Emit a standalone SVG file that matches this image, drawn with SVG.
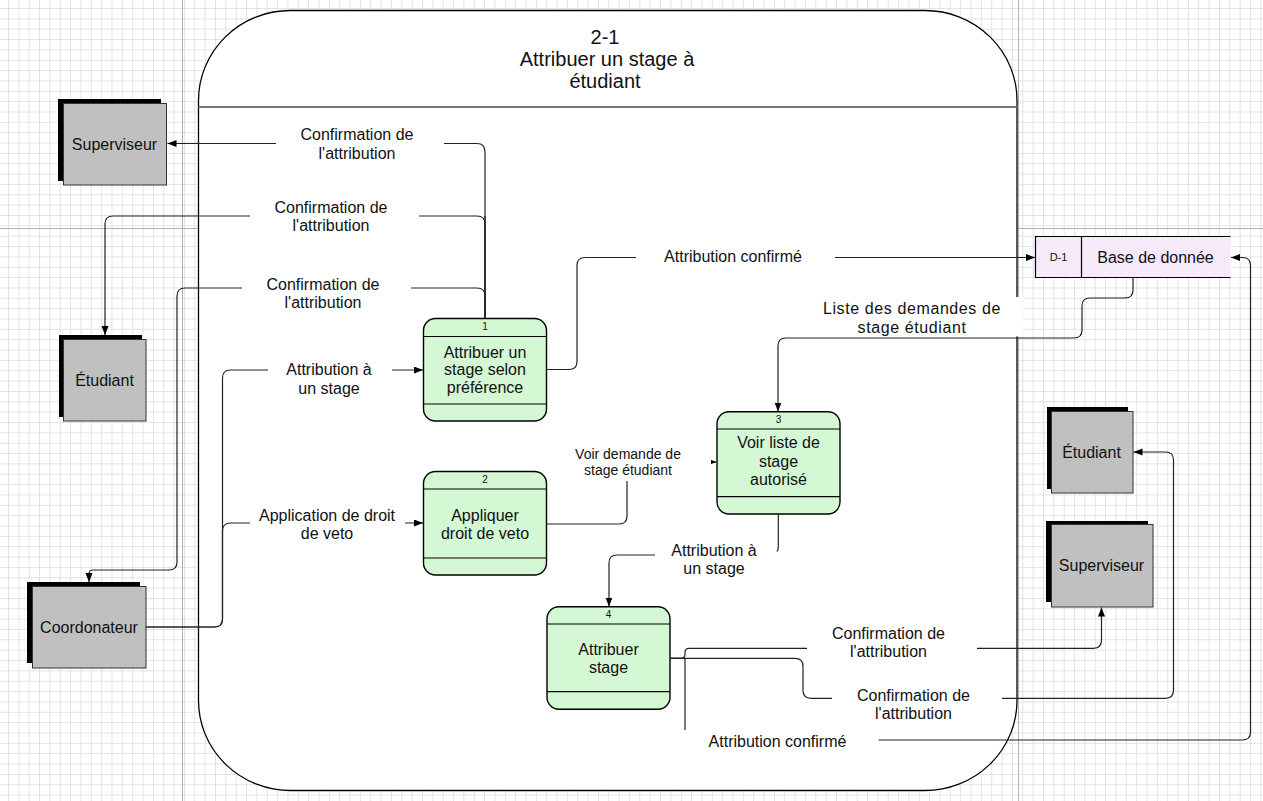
<svg xmlns="http://www.w3.org/2000/svg" width="1263" height="801" viewBox="0 0 1263 801">
<defs>
<pattern id="grid" x="8" y="8" width="10.35" height="10.35" patternUnits="userSpaceOnUse">
<path d="M0,0.5 H10.35 M0.5,0 V10.35" stroke="#e2e2e2" stroke-width="1" fill="none"/>
</pattern>
<marker id="arr" markerWidth="10" markerHeight="8" refX="9" refY="3.5" orient="auto" markerUnits="userSpaceOnUse">
<path d="M0,0 L9,3.5 L0,7 z" fill="#000"/>
</marker>
<style>
text{font-family:"Liberation Sans",Arial,sans-serif;fill:#111;text-anchor:middle}
.lbl{font-size:16px}
.wide{font-size:16px;letter-spacing:0.6px}
.sm{font-size:14px}
.num{font-size:10px}
.ttl{font-size:20px}
.shadow{fill:#000}
.ent{fill:#c0c0c0;stroke:#333;stroke-width:1}
.proc{fill:#d4f7d4;stroke:#000;stroke-width:1.4}
.sep{stroke:#000;stroke-width:1.2}
.con{fill:none;stroke:#222;stroke-width:1.2}
.bg{fill:#fff}
.pb{stroke:#b0b0b0;stroke-width:1}
</style>
</defs>
<rect x="0" y="0" width="1263" height="801" fill="#fff"/>
<rect x="0" y="0" width="1263" height="801" fill="url(#grid)"/>
<g id="pagebreaks">
<line class="pb" x1="182.5" y1="0" x2="182.5" y2="801"/>
<line class="pb" x1="1018.5" y1="0" x2="1018.5" y2="801"/>
<line class="pb" x1="0" y1="228.5" x2="1263" y2="228.5"/>
</g>
<g id="boundary">
<rect x="198.5" y="10.5" width="818.5" height="780" rx="92" ry="90" fill="#fff" stroke="#000" stroke-width="1.3"/>
<line x1="198.5" y1="107" x2="1017" y2="107" stroke="#777" stroke-width="2"/>
<text class="ttl" x="605" y="43.5">2-1</text>
<text class="ttl" x="607" y="65.5">Attribuer un stage à</text>
<text class="ttl" x="605" y="87.5">étudiant</text>
</g>
<g id="ent-superviseur-l">
<rect class="shadow" x="58" y="99" width="103" height="82"/>
<rect class="ent" x="63.5" y="103.5" width="103" height="81.5"/>
<text class="lbl" x="114.5" y="149.5">Superviseur</text>
</g>
<g id="ent-etudiant-l">
<rect class="shadow" x="59" y="335" width="83" height="82"/>
<rect class="ent" x="63.5" y="339.5" width="82.5" height="81.5"/>
<text class="lbl" x="104.5" y="385.5">Étudiant</text>
</g>
<g id="ent-coordonateur">
<rect class="shadow" x="27" y="582" width="113" height="81"/>
<rect class="ent" x="32.5" y="586.5" width="113.5" height="81.5"/>
<text class="lbl" x="89" y="632.5">Coordonateur</text>
</g>
<g id="ent-etudiant-r">
<rect class="shadow" x="1047" y="407" width="81" height="82"/>
<rect class="ent" x="1051.5" y="411.5" width="81.5" height="81.5"/>
<text class="lbl" x="1091.5" y="457.5">Étudiant</text>
</g>
<g id="ent-superviseur-r">
<rect class="shadow" x="1046" y="521" width="102" height="81"/>
<rect class="ent" x="1051.5" y="524.5" width="101.5" height="82.5"/>
<text class="lbl" x="1101.5" y="570.5">Superviseur</text>
</g>
<g id="store-d1">
<rect x="1035.5" y="236.5" width="195" height="41" fill="#f5e9fa"/>
<path d="M1230.5,236.5 H1035.5 V277.5 H1230.5 M1081.5,236.5 V277.5" fill="none" stroke="#000" stroke-width="1.2"/>
<text class="num" style="font-size:11px" x="1058.5" y="260.5">D-1</text>
<text class="lbl" x="1155.5" y="262.5">Base de donnée</text>
</g>
<g id="proc-1">
<rect class="proc" x="423.5" y="318.5" width="123" height="102.5" rx="12"/>
<line class="sep" x1="423.5" y1="336.5" x2="546.5" y2="336.5"/>
<line class="sep" x1="423.5" y1="404" x2="546.5" y2="404"/>
<text class="num" x="485" y="329.5">1</text>
<text class="lbl" x="485" y="357.5">Attribuer un</text>
<text class="lbl" x="485" y="375">stage selon</text>
<text class="lbl" x="485" y="392.5">préférence</text>
</g>
<g id="proc-2">
<rect class="proc" x="423.5" y="471.5" width="123" height="103.5" rx="12"/>
<line class="sep" x1="423.5" y1="489" x2="546.5" y2="489"/>
<line class="sep" x1="423.5" y1="558" x2="546.5" y2="558"/>
<text class="num" x="485" y="482.5">2</text>
<text class="lbl" x="485" y="520.5">Appliquer</text>
<text class="lbl" x="485" y="538.5">droit de veto</text>
</g>
<g id="proc-3">
<rect class="proc" x="717" y="411.7" width="123" height="102.3" rx="12"/>
<line class="sep" x1="717" y1="429" x2="840" y2="429"/>
<line class="sep" x1="717" y1="496.7" x2="840" y2="496.7"/>
<text class="num" x="778.5" y="423.3">3</text>
<text class="lbl" x="778.5" y="448.3">Voir liste de</text>
<text class="lbl" x="778.5" y="466.5">stage</text>
<text class="lbl" x="778.5" y="485">autorisé</text>
</g>
<g id="proc-4">
<rect class="proc" x="547" y="606.7" width="123" height="102.6" rx="12"/>
<line class="sep" x1="547" y1="624" x2="670" y2="624"/>
<line class="sep" x1="547" y1="691.7" x2="670" y2="691.7"/>
<text class="num" x="608.5" y="618.3">4</text>
<text class="lbl" x="608.5" y="654.5">Attribuer</text>
<text class="lbl" x="608.5" y="672.5">stage</text>
</g>
<g id="connectors">
<path class="con" marker-end="url(#arr)" d="M485,318 V152 Q485,143.5 477,143.5 H167.5"/>
<path class="con" marker-end="url(#arr)" d="M485,318 V224 Q485,216 477,216 H113 Q105,216 105,224 V335"/>
<path class="con" marker-end="url(#arr)" d="M485,318 V296 Q485,288 477,288 H185 Q177,288 177,296 V562 Q177,570 169,570 H93 Q89,570 89,574 V582"/>
<path class="con" stroke-width="2" d="M485,318 V216"/>
<path class="con" marker-end="url(#arr)" d="M146,627 H214.5 Q222.5,627 222.5,619 V378 Q222.5,370 230.5,370 H423"/>
<path class="con" marker-end="url(#arr)" d="M146,627 H214.5 Q222.5,627 222.5,619 V531 Q222.5,523 230.5,523 H423"/>
<path class="con" marker-end="url(#arr)" d="M547,369.5 H569 Q577,369.5 577,361.5 V265.5 Q577,257.5 585,257.5 H1035"/>
<path class="con" marker-end="url(#arr)" d="M1133,277.5 V290 Q1133,298 1125,298 H1090 Q1082,298 1082,306 V330 Q1082,338 1074,338 H786 Q778,338 778,346 V411.5"/>
<path class="con" marker-end="url(#arr)" d="M547,524 H619 Q627,524 627,516 V470 Q627,462 635,462 H716.5"/>
<path class="con" marker-end="url(#arr)" d="M778.3,514 V547 Q778.3,555 770,555 H617 Q609,555 609,563 V606.5"/>
<path class="con" marker-end="url(#arr)" d="M670,658.3 H681 Q685,658.3 685,654.3 V652.3 Q685,648.3 689,648.3 H1093.5 Q1101.5,648.3 1101.5,640.3 V607.5"/>
<path class="con" marker-end="url(#arr)" d="M670,658.3 H795 Q803,658.3 803,666.3 V690.3 Q803,698.3 811,698.3 H1165.5 Q1173.5,698.3 1173.5,690.3 V460 Q1173.5,452 1165.5,452 H1133.5"/>
<path class="con" marker-end="url(#arr)" d="M670,658.3 H685 V740 H1242.5 Q1250.5,740 1250.5,732 V265.5 Q1250.5,257.5 1242.5,257.5 H1231"/>
</g>
<g id="labels">
<rect class="bg" x="276" y="124" width="168" height="40"/>
<text class="lbl" x="357" y="140">Confirmation de</text>
<text class="lbl" x="357" y="158.5">l'attribution</text>
<rect class="bg" x="250" y="196" width="169" height="40"/>
<text class="lbl" x="331" y="212.5">Confirmation de</text>
<text class="lbl" x="331" y="231">l'attribution</text>
<rect class="bg" x="242" y="270" width="169" height="42"/>
<text class="lbl" x="323" y="289.5">Confirmation de</text>
<text class="lbl" x="323" y="307.5">l'attribution</text>
<rect class="bg" x="268" y="354" width="124" height="44"/>
<text class="lbl" x="329" y="375">Attribution à</text>
<text class="lbl" x="329" y="393.5">un stage</text>
<rect class="bg" x="250" y="503" width="155" height="42"/>
<text class="lbl" x="327" y="520.5">Application de droit</text>
<text class="lbl" x="327" y="538.5">de veto</text>
<rect class="bg" x="636" y="244" width="199" height="26"/>
<text class="lbl" x="733" y="261.5">Attribution confirmé</text>
<rect class="bg" x="800" y="297" width="223.5" height="39.5"/>
<text class="wide" x="912" y="314">Liste des demandes de</text>
<text class="wide" x="912" y="332.5">stage étudiant</text>
<rect class="bg" x="570" y="444" width="141" height="37"/>
<text class="sm" x="628" y="459.3">Voir demande de</text>
<text class="sm" x="628" y="474.5">stage étudiant</text>
<rect class="bg" x="655" y="551.5" width="131" height="30"/>
<text class="lbl" x="714" y="556">Attribution à</text>
<text class="lbl" x="714" y="574">un stage</text>
<rect class="bg" x="807" y="627" width="170" height="40"/>
<text class="lbl" x="888.5" y="639">Confirmation de</text>
<text class="lbl" x="888.5" y="657">l'attribution</text>
<rect class="bg" x="832" y="684" width="170" height="40"/>
<text class="lbl" x="913.5" y="700.7">Confirmation de</text>
<text class="lbl" x="913.5" y="718.5">l'attribution</text>
<rect class="bg" x="680" y="730" width="198.5" height="24"/>
<text class="lbl" x="777.5" y="746.7">Attribution confirmé</text>
</g>
</svg>
